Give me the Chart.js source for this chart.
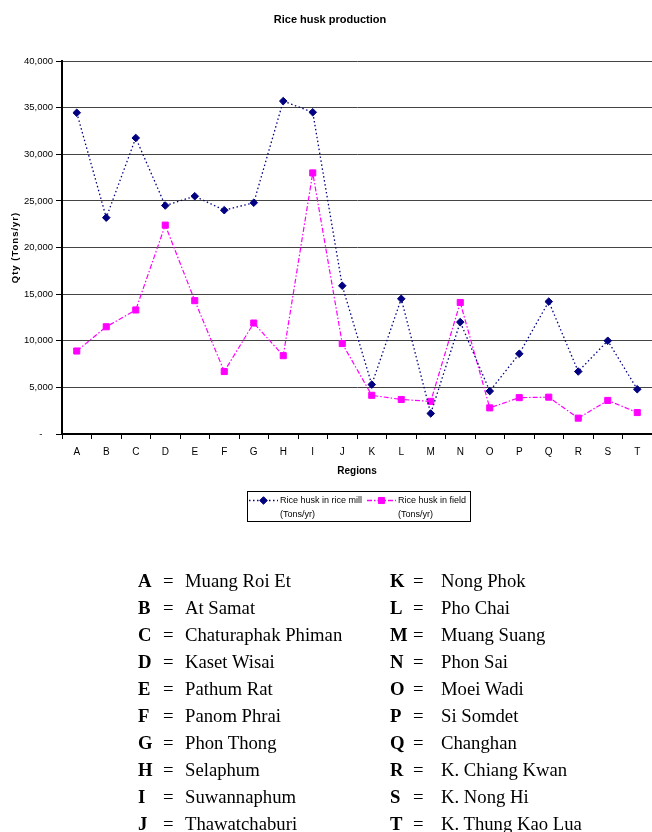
<!DOCTYPE html>
<html>
<head>
<meta charset="utf-8">
<title>Rice husk production</title>
<script src="https://cdn.jsdelivr.net/npm/chart.js@4/dist/chart.umd.min.js"></script>
<style>
  html, body { margin: 0; padding: 0; background: #fff; }
  #wrap { position: relative; width: 652px; height: 832px; overflow: hidden; background: #fff; }
  #chartBox { position: absolute; left: 0; top: 0; width: 652px; height: 540px; }
  #key { position: absolute; left: 0; top: 0; width: 652px; height: 832px;
         font-family: "Liberation Serif", "Times New Roman", serif; font-size: 18.7px; color: #000; }
  .k { position: absolute; white-space: nowrap; line-height: 27px; }
  .code { font-weight: bold; }
</style>
</head>
<body>
<div id="wrap">
  <div id="chartBox"><canvas id="c" width="652" height="540"></canvas></div>
  <div id="key"></div>
</div>
<script>
// Region codes on the x axis and the district each one stands for
const regions = ['A','B','C','D','E','F','G','H','I','J','K','L','M','N','O','P','Q','R','S','T'];
const regionNames = [
  'Muang Roi Et', 'At Samat', 'Chaturaphak Phiman', 'Kaset Wisai', 'Pathum Rat',
  'Panom Phrai', 'Phon Thong', 'Selaphum', 'Suwannaphum', 'Thawatchaburi',
  'Nong Phok', 'Pho Chai', 'Muang Suang', 'Phon Sai', 'Moei Wadi',
  'Si Somdet', 'Changhan', 'K. Chiang Kwan', 'K. Nong Hi', 'K. Thung Kao Lua'
];

// Rice husk quantities, tons per year
const millValues  = [34450, 23200, 31750, 24500, 25500, 24000, 24800, 35700, 34500, 15900,
                     5300, 14500, 2200, 12000, 4600, 8600, 14200, 6700, 10000, 4800];
const fieldValues = [8900, 11500, 13300, 22400, 14300, 6700, 11900, 8400, 28000, 9700,
                     4150, 3700, 3500, 14100, 2800, 3900, 3950, 1700, 3600, 2300];

const yTickValues = [0, 5000, 10000, 15000, 20000, 25000, 30000, 35000, 40000];

const chartTitle = 'Rice husk production';
const yTitle = 'Qty (Tons/yr)';
const xTitle = 'Regions';
const seriesLabels = [
  ['Rice husk in rice mill', '(Tons/yr)'],
  ['Rice husk in field', '(Tons/yr)']
];

const SANS = '"Liberation Sans", Arial, sans-serif';

// Title, rotated y-axis title and the boxed legend under the plot
const decorations = {
  id: 'decorations',
  afterDraw(chart) {
    const ctx = chart.ctx;
    const area = chart.chartArea;
    ctx.save();
    ctx.fillStyle = '#000';
    ctx.textBaseline = 'middle';

    ctx.font = 'bold 11px ' + SANS;
    ctx.textAlign = 'center';
    ctx.fillText(chartTitle, 330, 19.5);

    ctx.save();
    ctx.translate(15, (area.top + area.bottom) / 2);
    ctx.rotate(-Math.PI / 2);
    ctx.font = 'bold 9.5px ' + SANS;
    if ('letterSpacing' in ctx) ctx.letterSpacing = '1px';
    ctx.fillText(yTitle, 0, 0);
    ctx.restore();

    // legend frame
    ctx.strokeStyle = '#000';
    ctx.lineWidth = 1;
    ctx.strokeRect(247.5, 491.5, 223, 30);

    const items = [
      { x0: 249, x1: 278, tx: 280 },
      { x0: 367, x1: 396, tx: 398 }
    ];
    chart.data.datasets.forEach((ds, i) => {
      const it = items[i];
      const y = 500.5;
      ctx.save();
      ctx.strokeStyle = ds.borderColor;
      ctx.lineWidth = 1.5;
      ctx.setLineDash(ds.borderDash);
      ctx.beginPath();
      ctx.moveTo(it.x0, y);
      ctx.lineTo(it.x1, y);
      ctx.stroke();
      ctx.setLineDash([]);
      ctx.fillStyle = ds.pointBackgroundColor;
      ctx.strokeStyle = ds.pointBorderColor;
      ctx.lineWidth = 1;
      Chart.helpers.drawPoint(ctx, { pointStyle: ds.pointStyle, radius: ds.pointRadius, rotation: 0, borderWidth: 1 },
        (it.x0 + it.x1) / 2, y);
      ctx.restore();

      ctx.font = '9px ' + SANS;
      ctx.textAlign = 'left';
      ctx.fillStyle = '#000';
      ctx.fillText(seriesLabels[i][0], it.tx, y);
      ctx.fillText(seriesLabels[i][1], it.tx, 514.5);
    });
    ctx.restore();
  }
};

function noSidePadding(scale) {
  scale.paddingLeft = 0;
  scale.paddingRight = 0;
}

new Chart(document.getElementById('c'), {
  type: 'line',
  data: {
    labels: regions,
    datasets: [
      {
        label: seriesLabels[0].join(' '),
        data: millValues,
        borderColor: '#000080',
        borderWidth: 1.3,
        borderDash: [1.5, 2.5],
        pointStyle: 'rectRot',
        pointRadius: 3.8,
        pointBackgroundColor: '#000080',
        pointBorderColor: '#000080',
        pointBorderWidth: 1,
        tension: 0,
        fill: false,
        clip: false
      },
      {
        label: seriesLabels[1].join(' '),
        data: fieldValues,
        borderColor: '#ff00ff',
        borderWidth: 1.2,
        borderDash: [5, 2, 1.5, 2],
        pointStyle: 'rect',
        pointRadius: 4.3,
        pointBackgroundColor: '#ff00ff',
        pointBorderColor: '#ff00ff',
        pointBorderWidth: 1,
        tension: 0,
        fill: false,
        clip: false
      }
    ]
  },
  options: {
    responsive: false,
    animation: false,
    devicePixelRatio: 1,
    layout: { autoPadding: false, padding: { top: 61, left: 0, right: -2, bottom: 61 } },
    plugins: {
      legend: { display: false },
      title: { display: false },
      tooltip: { enabled: false }
    },
    scales: {
      x: {
        type: 'category',
        offset: true,
        grid: { offset: true, drawOnChartArea: false, drawTicks: true, tickLength: 5, color: '#000', lineWidth: 1 },
        border: { display: true, color: '#000', width: 2 },
        ticks: { color: '#000', font: { family: SANS, size: 10 }, padding: 7, maxRotation: 0, autoSkip: false },
        title: { display: true, text: xTitle, color: '#000', font: { family: SANS, size: 10, weight: 'bold' },
                 padding: { top: 0, bottom: 2 } },
        afterFit(scale) {
          scale.height = 45;
          noSidePadding(scale);
        }
      },
      y: {
        min: 0,
        max: 40000,
        afterBuildTicks(scale) { scale.ticks = yTickValues.map(v => ({ value: v })); },
        grid: { color: '#444', lineWidth: 1, tickLength: 6, tickColor: '#000' },
        border: { display: true, color: '#000', width: 2 },
        ticks: {
          color: '#000',
          font: { family: SANS, size: 9.5 },
          padding: 3,
          callback: v => v === 0 ? '-    ' : v.toLocaleString('en-US')
        },
        afterFit(scale) {
          scale.width = 62;
          noSidePadding(scale);
        }
      }
    }
  },
  plugins: [decorations]
});

// Region key below the chart: two columns of ten
const key = document.getElementById('key');
regions.forEach((code, i) => {
  const col = i < 10 ? 0 : 1;
  const row = i % 10;
  const top = 566.8 + row * 27;
  const cols = col === 0 ? [138, 163, 185] : [390, 413, 441];
  const parts = [[code, 'code'], ['=', ''], [regionNames[i], '']];
  parts.forEach((p, j) => {
    const el = document.createElement('span');
    el.className = 'k ' + p[1];
    el.style.left = cols[j] + 'px';
    el.style.top = top + 'px';
    el.textContent = p[0];
    key.appendChild(el);
  });
});
</script>
</body>
</html>
